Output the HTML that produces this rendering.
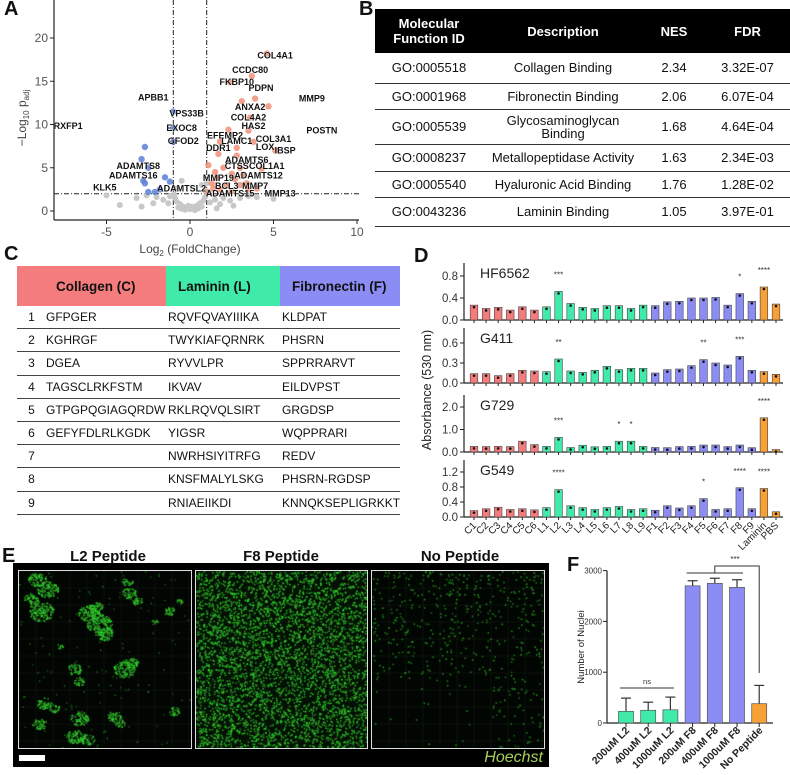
<!DOCTYPE html>
<html><head><meta charset="utf-8">
<style>
body{margin:0;background:#fff;}
#wrap{position:relative;width:790px;height:775px;overflow:hidden;font-family:"Liberation Sans",Arial,sans-serif;color:#111;}
.abs{position:absolute;}
.plab{position:absolute;font-weight:bold;font-size:20px;}
table{border-collapse:collapse;}
#tblB{position:absolute;left:375px;top:9px;width:415px;font-size:13px;}
#tblB th{background:#000;color:#fff;font-weight:bold;height:44px;padding:0;font-size:13px;line-height:15px;}
#tblB td{text-align:center;border-bottom:1.5px solid #333;padding:0;line-height:13px;}
#tblC{position:absolute;left:17px;top:266px;width:383px;font-size:12px;table-layout:fixed;}
#tblC th{height:40px;font-size:13.5px;text-align:left;padding:0;}
#tblC td{height:22.2px;border-bottom:1.5px solid #444;padding:0;white-space:nowrap;overflow:visible;}
</style></head><body>
<div id="wrap">
<div class="plab" style="left:4px;top:-2px">A</div>
<div class="plab" style="left:359px;top:-2px">B</div>
<div class="plab" style="left:4px;top:243px">C</div>
<div class="plab" style="left:414px;top:245px">D</div>
<div class="plab" style="left:2px;top:545px">E</div>
<div class="plab" style="left:567px;top:554px">F</div>

<table id="tblB">
<tr><th style="width:108px">Molecular<br>Function ID</th><th style="width:160px">Description</th><th style="width:62px">NES</th><th>FDR</th></tr>
<tr style="height:30px"><td>GO:0005518</td><td>Collagen Binding</td><td>2.34</td><td>3.32E-07</td></tr>
<tr style="height:26px"><td>GO:0001968</td><td>Fibronectin Binding</td><td>2.06</td><td>6.07E-04</td></tr>
<tr style="height:35px"><td>GO:0005539</td><td>Glycosaminoglycan<br>Binding</td><td>1.68</td><td>4.64E-04</td></tr>
<tr style="height:27px"><td>GO:0008237</td><td>Metallopeptidase Activity</td><td>1.63</td><td>2.34E-03</td></tr>
<tr style="height:26px"><td>GO:0005540</td><td>Hyaluronic Acid Binding</td><td>1.76</td><td>1.28E-02</td></tr>
<tr style="height:29px"><td>GO:0043236</td><td>Laminin Binding</td><td>1.05</td><td>3.97E-01</td></tr>
</table>

<table id="tblC">
<colgroup><col style="width:149px"><col style="width:114px"><col></colgroup>
<tr>
<th style="background:#f47c7c;padding-left:39px">Collagen (C)</th>
<th style="background:#40eaa8;padding-left:12px">Laminin (L)</th>
<th style="background:#8c8cf5;padding-left:12px">Fibronectin (F)</th></tr>
</table>

<svg id="svg" class="abs" style="left:0;top:0" width="790" height="775"></svg>

<div class="abs" style="left:13px;top:563px;width:536px;height:204px;background:#000"></div>
<div class="abs" style="left:42px;top:548px;width:112px;text-align:center;font-weight:bold;font-size:15px;transform:translateX(10px)">L2 Peptide</div>
<div class="abs" style="left:225px;top:548px;width:112px;text-align:center;font-weight:bold;font-size:15px">F8 Peptide</div>
<div class="abs" style="left:400px;top:548px;width:120px;text-align:center;font-weight:bold;font-size:15px">No Peptide</div>
<canvas id="img1" class="abs" width="172" height="177" style="left:18px;top:570px;border:1.5px solid #ddd"></canvas>
<canvas id="img2" class="abs" width="171" height="177" style="left:195px;top:570px;border:1.5px solid #ddd"></canvas>
<canvas id="img3" class="abs" width="172" height="177" style="left:371px;top:570px;border:1.5px solid #ddd"></canvas>
<div class="abs" style="left:19px;top:755px;width:26px;height:6px;background:#fff"></div>
<div class="abs" style="right:247px;top:749px;font-style:italic;font-size:16px;color:#a6cf5a">Hoechst</div>
</div>

<script>
// ---------- Panel C data ----------
const collagenSeq=["GFPGER","KGHRGF","DGEA","TAGSCLRKFSTM","GTPGPQGIAGQRDW","GEFYFDLRLKGDK","","",""];
const lamininSeq=["RQVFQVAYIIIKA","TWYKIAFQRNRK","RYVVLPR","IKVAV","RKLRQVQLSIRT","YIGSR","NWRHSIYITRFG","KNSFMALYLSKG","RNIAEIIKDI"];
const fibroSeq=["KLDPAT","PHSRN","SPPRRARVT","EILDVPST","GRGDSP","WQPPRARI","REDV","PHSRN-RGDSP","KNNQKSEPLIGRKKT"];
const tC=document.getElementById('tblC');
for(let i=0;i<9;i++){
  const tr=document.createElement('tr');
  
  
  tr.innerHTML='<td><span style="display:inline-block;width:29px;text-align:center">'+(i+1)+'</span>'+collagenSeq[i]+'</td><td style="padding-left:2px">'+lamininSeq[i]+'</td><td style="padding-left:2px">'+fibroSeq[i]+'</td>';
  tC.appendChild(tr);
}

const NS='http://www.w3.org/2000/svg';
const svg=document.getElementById('svg');
function el(tag,attrs,parent,text){const e=document.createElementNS(NS,tag);for(const k in attrs)e.setAttribute(k,attrs[k]);if(text!==undefined)e.textContent=text;(parent||svg).appendChild(e);return e;}

// ---------- Panel A: volcano ----------
const greyPts=[[0,0.2],[0.2,0.4],[-0.2,0.3],[0.4,0.6],[-0.4,0.5],[0.6,0.9],[-0.6,0.8],[0.8,1.2],[-0.8,1.1],[0.9,1.6],[-0.9,1.5],[0.3,0.1],[-0.3,0.15],[0.5,0.3],[-0.5,0.25],[0.1,0.5],[-0.1,0.6],[0.7,0.5],[-0.7,0.4],[1.2,1.0],[1.5,1.3],[2.0,1.5],[2.4,1.2],[3.0,1.5],[3.5,1.7],[4.0,1.6],[5.0,1.4],[1.8,0.8],[-1.3,0.9],[-1.6,1.3],[-2.0,1.6],[-2.6,1.8],[-3.2,1.5],[-5.0,1.8],[-2.9,0.5],[-4.2,0.7],[-1.2,1.7],[-0.95,1.9],[0.95,2.3],[1.0,3.2],[-0.8,2.6],[-0.5,3.5],[0.7,3.0],[1.6,0.3],[2.6,0.6],[-2.2,0.9]];
const upPts=[[4.6,18.2],[3.7,15.6],[2.4,14.9],[3.9,13],[3.1,12.7],[4.7,12.1],[3.6,10.8],[2.3,9.4],[3.5,9.3],[3.8,8.0],[1.8,8.0],[2.8,7.3],[5.1,7.0],[1.7,6.6],[2.8,6.4],[1.1,5.3],[2.0,5.0],[3.0,5.0],[4.3,4.9],[1.5,4.5],[2.5,4.3],[3.2,4.2],[1.6,3.8],[2.7,3.7],[3.4,3.2],[3.0,3.0],[2.2,3.0],[1.3,3.2],[1.8,2.5],[2.5,2.3],[3.5,2.5],[4.0,2.6],[1.1,2.2],[1.4,2.6]];
const downPts=[[-1.0,11.5],[-1.0,9.6],[-1.0,8.0],[-2.7,7.4],[-2.9,6.0],[-2.5,5.0],[-1.5,3.9],[-2.8,3.5],[-2.7,3.2],[-1.2,3.4],[-1.8,2.5],[-2.1,2.2],[-2.5,2.2]];
const geneNames=["COL4A1","CCDC80","FKBP10","PDPN","MMP9","APBB1","ANXA2","VPS33B","COL4A2","RXFP1","HAS2","POSTN","EXOC8","EFEMP2","GFOD2","LAMC1","COL3A1","DDR1","LOX","IBSP","ADAMTS6","ADAMTS8","CTSS","COL1A1","ADAMTS16","ADAMTS12","MMP19","KLK5","ADAMTSL2","BCL3","MMP7","ADAMTS15","MMP13"];
const geneX=[5.1,3.6,2.8,4.25,7.3,-2.2,3.6,-0.2,3.5,-7.3,3.8,7.9,-0.5,2.1,-0.4,2.8,5.0,1.7,4.5,5.7,3.4,-3.1,2.8,4.6,-3.4,4.1,1.7,-5.1,-0.5,2.2,3.9,2.4,5.4];
const geneY=[18.0,16.3,14.9,14.2,13.0,13.1,12.0,11.3,10.8,9.8,9.8,9.3,9.6,8.7,8.1,8.1,8.3,7.3,7.4,7.0,5.9,5.2,5.2,5.2,4.1,4.1,3.8,2.7,2.6,2.9,2.9,2.0,2.0];
const aX=v=>190+v*16.7, aY=v=>211-v*8.65;
const gA=el('g',{});
el('line',{x1:54,y1:0,x2:54,y2:220,stroke:'#222','stroke-width':1.2},gA);
el('line',{x1:54,y1:220,x2:359,y2:220,stroke:'#222','stroke-width':1.2},gA);
const aXT=[-5,0,5,10], aYT=[0,5,10,15,20];
aXT.forEach(t=>{el('line',{x1:aX(t),y1:220,x2:aX(t),y2:224,stroke:'#222'},gA);const tx=el('text',{x:aX(t),y:236,'font-size':12,fill:'#555','text-anchor':'middle'},gA,t);});
aYT.forEach(t=>{el('line',{x1:50,y1:aY(t),x2:54,y2:aY(t),stroke:'#222'},gA);const tx=el('text',{x:48,y:aY(t)+4,'font-size':12,fill:'#555','text-anchor':'end'},gA,t);});
el('line',{x1:aX(-1),y1:0,x2:aX(-1),y2:220,stroke:'#222','stroke-dasharray':'5,2,1,2'},gA);
el('line',{x1:aX(1),y1:0,x2:aX(1),y2:220,stroke:'#222','stroke-dasharray':'5,2,1,2'},gA);
el('line',{x1:54,y1:aY(2),x2:359,y2:aY(2),stroke:'#222','stroke-dasharray':'5,2,1,2'},gA);
greyPts.forEach(p=>{const c=el('circle',{cx:aX(p[0]),cy:aY(p[1]),r:3,fill:'#c8c8c8'},gA);});
upPts.forEach(p=>{const c=el('circle',{cx:aX(p[0]),cy:aY(p[1]),r:3.2,fill:'#f08a70','fill-opacity':0.8},gA);});
downPts.forEach(p=>{const c=el('circle',{cx:aX(p[0]),cy:aY(p[1]),r:3.2,fill:'#5b7fd6','fill-opacity':0.85},gA);});
geneNames.forEach((n,i)=>{const t=el('text',{x:aX(geneX[i]),y:aY(geneY[i])+3,'font-size':9,'font-weight':'bold','text-anchor':'middle',fill:'#111',stroke:'#fff','stroke-width':0.4,'paint-order':'stroke'},gA,n);});
const xl=el('text',{x:190,y:253,'font-size':12,fill:'#444','text-anchor':'middle'},gA);

xl.innerHTML='Log<tspan font-size="8" dy="3">2</tspan><tspan dy="-3"> (FoldChange)</tspan>';
const yl=el('text',{transform:'translate(26,118) rotate(-90)','font-size':12,fill:'#444','text-anchor':'middle'},gA);

yl.innerHTML='\u2212Log<tspan font-size="8" dy="3">10</tspan><tspan dy="-3"> p</tspan><tspan font-size="8" dy="3">adj</tspan>';

// ---------- Panel D ----------
const dCats=["C1","C2","C3","C4","C5","C6","L1","L2","L3","L4","L5","L6","L7","L8","L9","F1","F2","F3","F4","F5","F6","F7","F8","F9","Laminin","PBS"];
const hf6562=[.27,.21,.23,.18,.24,.18,.24,.52,.30,.23,.21,.26,.26,.21,.27,.26,.33,.34,.40,.40,.41,.27,.48,.34,.60,.29];
const g411=[.14,.14,.11,.14,.19,.18,.17,.36,.18,.16,.19,.25,.20,.22,.22,.15,.20,.21,.26,.35,.30,.27,.40,.19,.17,.13];
const g729=[.25,.24,.25,.24,.48,.33,.25,.65,.20,.30,.23,.25,.48,.48,.25,.20,.19,.24,.25,.31,.31,.24,.31,.19,1.52,.11];
const g549=[.17,.22,.26,.20,.22,.19,.25,.73,.30,.25,.20,.25,.28,.20,.22,.18,.30,.24,.30,.49,.20,.22,.78,.22,.76,.14];
const hfStars=["","","","","","","","***","","","","","","","","","","","","","","","*","","****",""];
const g411Stars=["","","","","","","","**","","","","","","","","","","","","**","","","***","","",""];
const g729Stars=["","","","","","","","***","","","","","*","*","","","","","","","","","","","****",""];
const g549Stars=["","","","","","","","****","","","","","","","","","","","","*","","","****","","****",""];
const hfTicks=[0,0.4,0.8], g411Ticks=[0,0.3,0.6], g729Ticks=[0,1,2], g549Ticks=[0,0.4,0.8,1.2];
const cellLines=["HF6562","G411","G729","G549"];
const panels=[
 {vals:hf6562,stars:hfStars,ticks:hfTicks,zero:320,ppu:55,top:263,dec:1},
 {vals:g411,stars:g411Stars,ticks:g411Ticks,zero:383,ppu:66.7,top:328,dec:1},
 {vals:g729,stars:g729Stars,ticks:g729Ticks,zero:452,ppu:22.5,top:395,dec:1},
 {vals:g549,stars:g549Stars,ticks:g549Ticks,zero:517,ppu:37.5,top:460,dec:1}];
const dColor=c=>c[0]==='C'?'#f47c7c':c[0]==='L'&&c!=='Laminin'?'#40eaa8':c[0]==='F'?'#8c8cf5':'#f7a035';
const dX=i=>474+i*(776-474)/(dCats.length-1);
panels.forEach((p,pi)=>{
  const g=el('g',{});
  
  
  const y=v=>p.zero-v*p.ppu;
  el('line',{x1:464,y1:p.top,x2:464,y2:p.zero,stroke:'#222','stroke-width':1.2},g);
  el('line',{x1:464,y1:p.zero,x2:783,y2:p.zero,stroke:'#222','stroke-width':1.2},g);
  p.ticks.forEach(t=>{el('line',{x1:460,y1:y(t),x2:464,y2:y(t),stroke:'#222'},g);const tx=el('text',{x:458,y:y(t)+4,'font-size':11.5,fill:'#333','text-anchor':'end'},g,t.toFixed(p.dec));});
  const nm=el('text',{x:480,y:p.top+15,'font-size':14,fill:'#222'},g,cellLines[pi]);
  
  dCats.forEach((c,i)=>{
    const x=dX(i),v=p.vals[i];
    el('line',{x1:x,y1:p.zero,x2:x,y2:p.zero+3,stroke:'#222'},g);
    const b=el('rect',{x:x-3.8,y:y(v),width:7.6,height:v*p.ppu,fill:dColor(c),stroke:'#444','stroke-width':0.6},g);
    
    el('circle',{cx:x,cy:y(v)+2,r:1.3,fill:'#111'},g);
    if(p.stars[i]){const s=el('text',{x:x,y:Math.max(p.top+8,y(v)-14),'font-size':8,fill:'#333','text-anchor':'middle'},g,p.stars[i]);}
  });
});
dCats.forEach((c,i)=>{const t=el('text',{transform:'translate('+(dX(i)+3)+',526) rotate(-45)','font-size':10,fill:'#222','text-anchor':'end'},svg,c);});
const dyt=el('text',{transform:'translate(431,390) rotate(-90)','font-size':12.5,fill:'#222','text-anchor':'middle'},svg,'Absorbance (530 nm)');


// ---------- Panel F ----------
const fCats=["200uM L2","400uM L2","1000uM L2","200uM F8","400uM F8","1000uM F8","No Peptide"];
const nuclei=[230,250,260,2700,2750,2670,380];
const nucleiErr=[260,160,250,100,100,150,360];
const fTicks=[0,1000,2000,3000];
const fColors=['#40eaa8','#40eaa8','#40eaa8','#8c8cf5','#8c8cf5','#8c8cf5','#f7a035'];
const fY=v=>723-v*0.0508, fX=i=>626+i*22.2;
const gF=el('g',{});
el('line',{x1:607,y1:fY(3000),x2:607,y2:723,stroke:'#222','stroke-width':1.2},gF);
el('line',{x1:607,y1:723,x2:773,y2:723,stroke:'#222','stroke-width':1.2},gF);
fTicks.forEach(t=>{el('line',{x1:603,y1:fY(t),x2:607,y2:fY(t),stroke:'#222'},gF);const tx=el('text',{x:602,y:fY(t)+3,'font-size':8,fill:'#333','text-anchor':'end'},gF,t);});
nuclei.forEach((v,i)=>{
  const x=fX(i);
  el('line',{x1:x,y1:fY(v),x2:x,y2:fY(v+nucleiErr[i]),stroke:'#333','stroke-width':1.2},gF);
  el('line',{x1:x-5,y1:fY(v+nucleiErr[i]),x2:x+5,y2:fY(v+nucleiErr[i]),stroke:'#333','stroke-width':1.2},gF);
  const b=el('rect',{x:x-7.5,y:fY(v),width:15,height:v*0.0508,fill:fColors[i],stroke:'#555','stroke-width':0.7},gF);
  
  el('line',{x1:x,y1:723,x2:x,y2:727,stroke:'#222'},gF);
  const t=el('text',{transform:'translate('+(x+4)+',731) rotate(-45)','font-size':10.5,'font-weight':'bold',fill:'#222','text-anchor':'end'},gF,fCats[i]);
  
});
el('line',{x1:620,y1:688,x2:674,y2:688,stroke:'#333'},gF);
el('text',{x:647,y:684,'font-size':7.5,fill:'#333','text-anchor':'middle'},gF,'ns');
el('line',{x1:fX(3)-6,y1:573,x2:fX(5)+6,y2:573,stroke:'#333'},gF);
el('polyline',{points:(fX(4))+',573 '+(fX(4))+',566 '+fX(6)+',566 '+fX(6)+',673',fill:'none',stroke:'#333'},gF);
el('text',{x:(fX(4)+fX(6))/2-2,y:562,'font-size':8,fill:'#333','text-anchor':'middle'},gF,'***');
const fyt=el('text',{transform:'translate(584,647) rotate(-90)','font-size':9.5,fill:'#222','text-anchor':'middle'},gF,'Number of Nuclei');


// ---------- Panel E textures (decorative) ----------
let seed=12345;function rnd(){seed=(seed*1103515245+12345)&0x7fffffff;return seed/0x7fffffff;}
function grid(ctx,w,h){ctx.strokeStyle='rgba(60,80,60,0.35)';ctx.lineWidth=0.5;for(let x=0;x<w;x+=17){ctx.beginPath();ctx.moveTo(x,0);ctx.lineTo(x,h);ctx.stroke();}for(let y=0;y<h;y+=17){ctx.beginPath();ctx.moveTo(0,y);ctx.lineTo(w,y);ctx.stroke();}}
function dot(ctx,x,y,a){ctx.fillStyle='rgba('+(30+rnd()*40|0)+','+(150+rnd()*100|0)+','+(30+rnd()*30|0)+','+a+')';ctx.fillRect(x,y,1.5,1.5);}
(function(){
 const c1=document.getElementById('img1').getContext('2d');c1.fillStyle='#020502';c1.fillRect(0,0,172,177);grid(c1,172,177);
 const cl=[[18,8,5],[28,18,6],[22,40,7],[12,28,4],[70,42,6],[80,52,7],[85,62,5],[76,35,4],[108,10,3],[110,22,4],[118,30,3],[105,98,6],[112,92,4],[55,98,4],[60,110,3],[25,132,4],[35,137,3],[60,147,5],[95,145,4],[100,152,3],[20,153,4],[55,165,5],[68,168,4],[150,40,3],[160,30,2],[155,140,3],[40,75,2],[135,50,2]];
 cl.forEach(c=>{for(let k=0;k<c[2]*c[2]*3;k++){const a=rnd()*6.28,r=Math.sqrt(rnd())*c[2]*1.4;dot(c1,c[0]+Math.cos(a)*r*1.3,c[1]+Math.sin(a)*r,0.8);}});
 for(let k=0;k<140;k++)dot(c1,rnd()*172,rnd()*177,0.45);
 const c2=document.getElementById('img2').getContext('2d');c2.fillStyle='#031003';c2.fillRect(0,0,171,177);grid(c2,171,177);
 for(let k=0;k<4200;k++)dot(c2,rnd()*171,rnd()*177,0.85);
 const c3=document.getElementById('img3').getContext('2d');c3.fillStyle='#020602';c3.fillRect(0,0,172,177);grid(c3,172,177);
 for(let k=0;k<1100;k++){const x=rnd()*172,y=rnd()*177;const p=y<110?(0.9-y/200):(x>120?0.35:0.06);if(rnd()<p)dot(c3,x,y,0.65);}
})();
</script>
</body></html>
